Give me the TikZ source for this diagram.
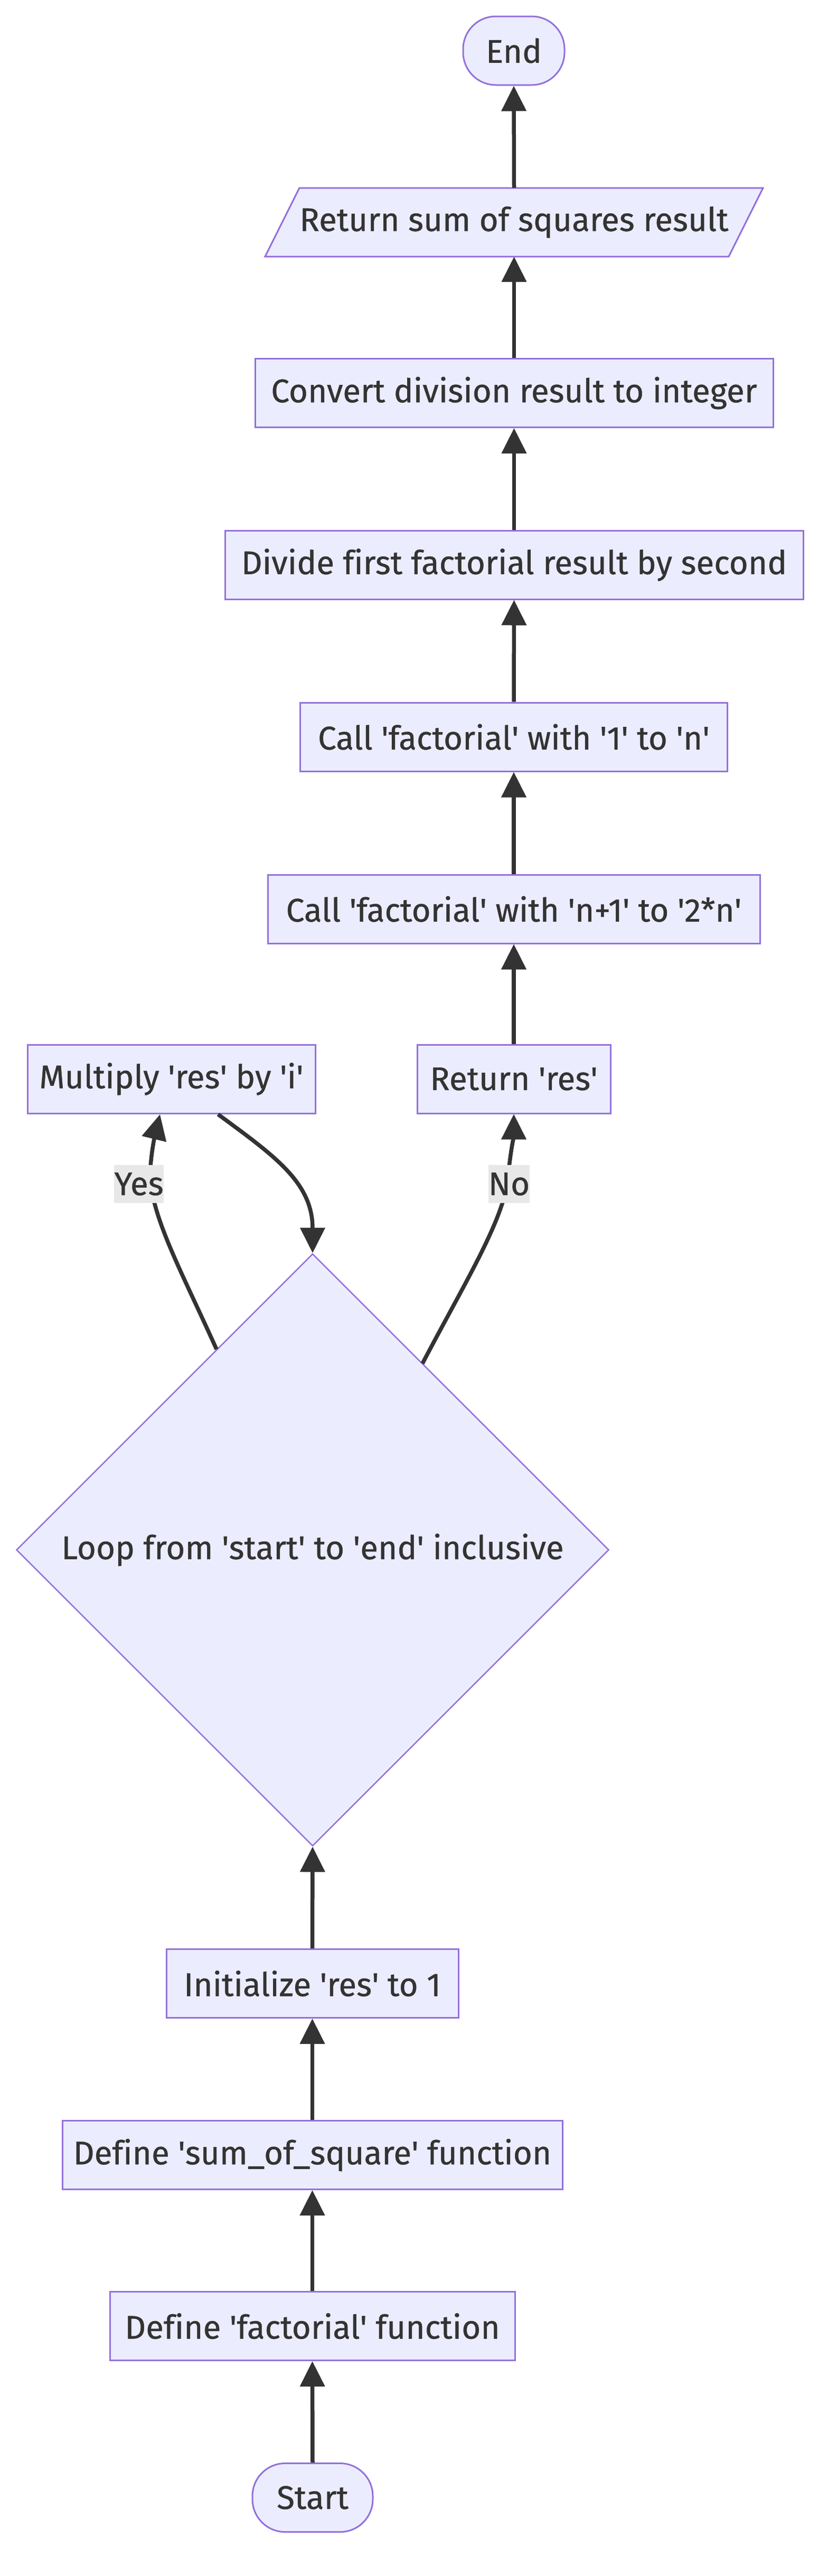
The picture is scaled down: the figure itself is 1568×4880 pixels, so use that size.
\documentclass[tikz,border=0pt]{standalone}
\usepackage{fontspec}
\setmainfont{Fira Sans}[Ligatures=NoCommon, FakeBold=0.6]
\usetikzlibrary{shapes.geometric,arrows.meta}
\newcommand{\sq}{\textquotesingle}
\definecolor{nodefill}{HTML}{ECECFF}
\definecolor{nodeline}{HTML}{9370DB}
\definecolor{edgecol}{HTML}{333333}
\definecolor{txtcol}{HTML}{333333}
\definecolor{lblbg}{HTML}{E8E8E8}
\tikzset{
  box/.style={draw=nodeline, fill=nodefill, line width=3pt, text=txtcol,
    font=\fontsize{62}{72}\selectfont, minimum height=130pt, inner sep=0pt},
  term/.style={box, rounded corners=62pt},
  decision/.style={box, shape=diamond, line width=2.5pt, minimum width=1122pt, minimum height=1122pt},
  plain/.style={text=txtcol, font=\fontsize{62}{72}\selectfont, minimum height=130pt, inner sep=0pt},
  elabel/.style={fill=lblbg, text=txtcol, font=\fontsize{62}{72}\selectfont, inner sep=0pt, minimum height=72pt},
  flow/.style={draw=edgecol, line width=7.5pt, -{Triangle[length=48pt,width=46pt]}},
}
\begin{document}
\begin{tikzpicture}[x=1pt,y=-1pt]
\useasboundingbox (0,0) rectangle (1568,4880);
\fill[white] (0,0) rectangle (1568,4880);

% right column
\node[term, minimum width=192pt] (endn) at (973,96) {End};
\draw[draw=nodeline, fill=nodefill, line width=3pt] (567,356) -- (1445,356) -- (1380,486) -- (502,486) -- cycle;
\node[plain, minimum width=943pt] (retsum) at (973.5,421) {Return sum of squares result};
\node[box, minimum width=981pt] (conv) at (973.5,744.5) {Convert division result to integer};
\node[box, minimum width=1095pt] (divide) at (973.5,1070) {Divide first factorial result by second};
\node[box, minimum width=809pt] (call1) at (973,1396) {Call \sq factorial\sq\ with \sq 1\sq\ to \sq n\sq};
\node[box, minimum width=932pt] (call2) at (973,1722) {Call \sq factorial\sq\ with \sq n+1\sq\ to \sq 2*n\sq};
\node[box, minimum width=366pt] (retres) at (973,2044) {Return \sq res\sq};
\node[box, minimum width=545pt] (mult) at (324.5,2044) {Multiply \sq res\sq\ by \sq i\sq};

% left column
\node[decision] (loop) at (592,2936) {Loop from \sq start\sq\ to \sq end\sq\ inclusive};
\node[box, minimum width=553pt] (init) at (591.5,3757.5) {Initialize \sq res\sq\ to 1};
\node[box, minimum width=947pt] (defsum) at (591.5,4082.5) {Define \sq sum\_of\_square\sq\ function};
\node[box, minimum width=767pt] (deffac) at (591.5,4406.5) {Define \sq factorial\sq\ function};
\node[term, minimum width=228pt] (startn) at (592,4731.5) {Start};

% straight connectors
\draw[flow] (startn.north) -- (deffac.south);
\draw[flow] (deffac.north) -- (defsum.south);
\draw[flow] (defsum.north) -- (init.south);
\draw[flow] (init.north) -- (loop.south);
\draw[flow] (retres.north) -- (call2.south);
\draw[flow] (call2.north) -- (call1.south);
\draw[flow] (call1.north) -- (divide.south);
\draw[flow] (divide.north) -- (conv.south);
\draw[flow] (conv.north) -- (retsum.south);
\draw[flow] (retsum.north) -- (endn.south);

% loop connectors
\coordinate (yesA) at (410,2556);
\coordinate (yesB) at (303,2111);
\draw[flow] (yesA) .. controls (340,2400) and (278,2290) .. (285,2210) .. controls (288,2170) and (296,2140) .. (yesB);
\coordinate (multOut) at (413,2111);
\draw[flow] (multOut) .. controls (520,2190) and (592,2240) .. (loop.north);
\coordinate (noA) at (800,2583);
\draw[flow] (noA) .. controls (880,2430) and (955,2310) .. (962,2230) .. controls (967,2180) and (973,2150) .. (retres.south);

\node[elabel, minimum width=88pt] (yes) at (263,2243) {Yes};
\node[elabel, minimum width=70pt] (no) at (964,2243) {No};
\end{tikzpicture}
\end{document}
